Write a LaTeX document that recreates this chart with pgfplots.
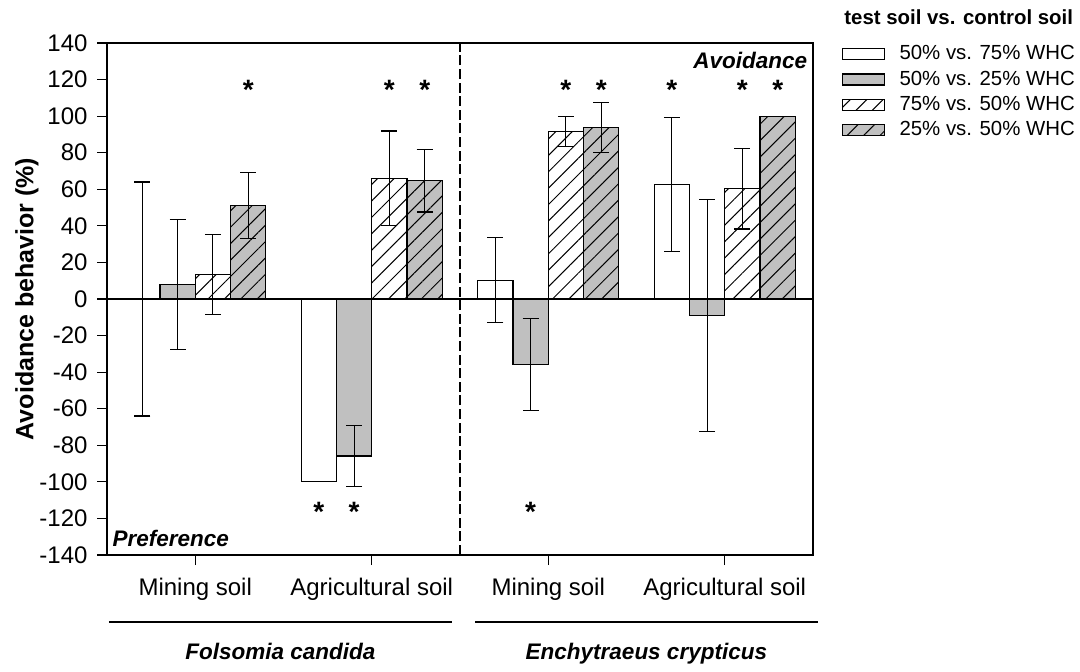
\documentclass[border=0pt]{standalone}
\usepackage{fontspec}
\setmainfont{Liberation Sans}
\usepackage{pgfplots}
\usepackage{pgfplotstable}
\pgfplotsset{compat=1.18}
\usetikzlibrary{patterns.meta,plotmarks}
\definecolor{barGray}{RGB}{192,192,192}
\tikzset{hatch/.style={postaction={pattern={Lines[angle=45,distance=5.8pt,line width=0.5pt]}}}}

% groups centred at 0 = F. candida mining, 1 = F. candida agricultural,
% 2 = E. crypticus mining, 3 = E. crypticus agricultural; bars at centre -0.3, -0.1, +0.1, +0.3
\pgfplotstableread{
x y err
-0.3 0 64
0.7 -100 0
1.7 10.3 23.2
2.7 62.7 36.8
}\sA
\pgfplotstableread{
x y err
-0.1 8 35.6
0.9 -85.9 16.7
1.9 -35.9 25.1
2.9 -9 63.4
}\sB
\pgfplotstableread{
x y err
0.1 13.5 22
1.1 66 25.9
2.1 91.6 8.4
3.1 60.3 22
}\sC
\pgfplotstableread{
x y err
0.3 51.3 18.1
1.3 64.7 17.1
2.3 93.8 13.5
3.3 100 0
}\sD
\pgfplotstableread{
x y
0.3 114.3
1.1 114.3
1.3 114.3
2.1 114.3
2.3 114.3
2.7 114.3
3.1 114.3
3.3 114.3
0.7 -116.3
0.9 -116.3
1.9 -116.3
}\stars

\begin{document}
\begin{tikzpicture}
\path[use as bounding box] (-53.5pt,-58pt) rectangle (486.5pt,277.5pt);
\begin{axis}[
  scale only axis,
  width=353pt, height=256pt,
  xmin=-0.5, xmax=3.5, ymin=-140, ymax=140,
  xtick={0,1,2,3},
  xticklabels={Mining soil, Agricultural soil, Mining soil, Agricultural soil},
  ytick={-140,-120,...,140},
  xtick pos=bottom, ytick pos=left,
  tick align=outside,
  major tick length=5pt,
  major tick style={line width=0.6pt, black},
  axis line style={line width=0.75pt},
  /pgf/number format/assume math mode=true,
  tick label style={font=\fontsize{12}{13}\selectfont},
  yticklabel style={xshift=-1.2pt},
  xticklabel style={yshift=-3pt},
  ylabel={Avoidance behavior (\%)},
  ylabel style={at={(axis description cs:-0.1133,0.5)}, anchor=center, font=\bfseries\fontsize{12.5}{14}\selectfont},
  clip=false,
  legend image code/.code={\draw[#1, line width=0.6pt] (0pt,-2.75pt) rectangle (21pt,2.75pt);},
  legend style={at={(axis description cs:1.0407,0.9955)}, anchor=north west,
    draw=none, fill=none, inner sep=0pt, row sep=4pt,
    font=\fontsize{10.2}{12}\selectfont,
    nodes={inner sep=0pt},
    /tikz/every odd column/.append style={column sep=7.1pt}},
  legend cell align=left,
  error bars/y dir=both, error bars/y explicit,
  error bars/error bar style={line width=0.55pt, black},
  error bars/error mark options={rotate=90, mark size=4pt, line width=0.55pt, black},
]
\addplot[ybar, bar width=0.2, bar shift=0, fill=white, draw=black, line width=0.6pt]
  table[x=x, y=y, y error=err] {\sA};
\addlegendentry{50\% vs. 75\% WHC}
\addplot[ybar, bar width=0.2, bar shift=0, fill=barGray, draw=black, line width=0.6pt]
  table[x=x, y=y, y error=err] {\sB};
\addlegendentry{50\% vs. 25\% WHC}
\addplot[ybar, bar width=0.2, bar shift=0, fill=white, draw=black, line width=0.6pt, hatch]
  table[x=x, y=y, y error=err] {\sC};
\addlegendentry{75\% vs. 50\% WHC}
\addplot[ybar, bar width=0.2, bar shift=0, fill=barGray, draw=black, line width=0.6pt, hatch]
  table[x=x, y=y, y error=err] {\sD};
\addlegendentry{25\% vs. 50\% WHC}

% zero line and separator
\addplot[forget plot, black, line width=1pt, mark=none, error bars/y dir=none] coordinates {(-0.5,0) (3.5,0)};
\addplot[forget plot, black, line width=0.6pt, mark=none, dash pattern=on 5pt off 1.8pt, error bars/y dir=none] coordinates {(1.5,-140) (1.5,140)};

% significance stars
\addplot[forget plot, only marks, error bars/y dir=none, mark=text, text mark={*}, text mark as node=true,
  text mark style={font=\bfseries\fontsize{14}{14}\selectfont, inner sep=0pt, anchor=center}]
  table[x=x, y=y] {\stars};

% annotations
\node[anchor=base east, inner sep=0pt, font=\bfseries\itshape\fontsize{11.25}{13}\selectfont] at (axis cs:3.469,126) {Avoidance};
\node[anchor=base west, inner sep=0pt, font=\bfseries\itshape\fontsize{11.25}{13}\selectfont] at (axis cs:-0.47,-135.6) {Preference};
\draw[line width=0.75pt] (axis cs:-0.49,-176.6) -- (axis cs:1.454,-176.6);
\draw[line width=0.75pt] (axis cs:1.585,-176.6) -- (axis cs:3.526,-176.6);
\node[anchor=base, inner sep=0pt, font=\bfseries\itshape\fontsize{11.25}{13}\selectfont] at (axis cs:0.482,-197.4) {Folsomia candida};
\node[anchor=base, inner sep=0pt, font=\bfseries\itshape\fontsize{11.25}{13}\selectfont] at (axis cs:2.556,-197.4) {Enchytraeus crypticus};
\node[anchor=base west, inner sep=0pt, font=\bfseries\fontsize{10.2}{12}\selectfont] at (axis description cs:1.0439,1.0352) {test soil vs. control soil};
\end{axis}
\end{tikzpicture}
\end{document}
